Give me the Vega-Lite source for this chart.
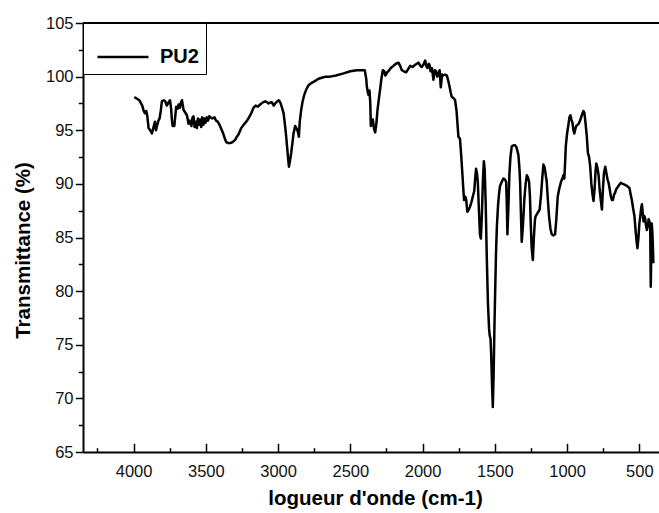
{
  "$schema": "https://vega.github.io/schema/vega-lite/v6.json",
  "width": 576,
  "height": 429,
  "autosize": {"type": "none"},
  "padding": {"left": 83, "top": 23, "right": 0, "bottom": 61},
  "background": "white",
  "config": {
    "view": {"stroke": null},
    "font": "Liberation Sans",
    "axis": {"grid": false, "labelFont": "Liberation Sans", "titleFont": "Liberation Sans", "labelColor": "#111", "titleColor": "#000", "domainColor": "#000", "tickColor": "#000"}
  },
  "data": {"values": [
    {"w":3995,"T":98.1},{"w":3960,"T":97.8},{"w":3940,"T":97.3},{"w":3930,"T":96.8},{"w":3922,"T":96.6},{"w":3912,"T":96.8},{"w":3905,"T":96.3},{"w":3896,"T":95.2},{"w":3885,"T":95.0},{"w":3873,"T":94.7},{"w":3862,"T":95.3},{"w":3852,"T":95.8},{"w":3845,"T":95.0},{"w":3838,"T":95.4},{"w":3828,"T":95.9},{"w":3820,"T":96.1},{"w":3812,"T":96.8},{"w":3804,"T":97.7},{"w":3792,"T":97.8},{"w":3781,"T":97.7},{"w":3770,"T":97.3},{"w":3758,"T":97.6},{"w":3748,"T":97.8},{"w":3740,"T":97.0},{"w":3735,"T":96.0},{"w":3730,"T":95.4},{"w":3718,"T":95.4},{"w":3710,"T":96.5},{"w":3705,"T":97.2},{"w":3695,"T":97.0},{"w":3689,"T":97.4},{"w":3680,"T":97.1},{"w":3672,"T":97.6},{"w":3665,"T":97.8},{"w":3654,"T":96.9},{"w":3645,"T":96.7},{"w":3631,"T":96.4},{"w":3625,"T":96.0},{"w":3620,"T":95.6},{"w":3610,"T":95.9},{"w":3600,"T":95.4},{"w":3592,"T":96.2},{"w":3585,"T":96.3},{"w":3578,"T":95.3},{"w":3570,"T":95.8},{"w":3562,"T":95.2},{"w":3555,"T":96.1},{"w":3548,"T":95.5},{"w":3540,"T":96.0},{"w":3532,"T":95.3},{"w":3525,"T":96.2},{"w":3517,"T":95.5},{"w":3510,"T":96.1},{"w":3502,"T":95.7},{"w":3493,"T":96.2},{"w":3485,"T":95.9},{"w":3477,"T":96.3},{"w":3468,"T":96.2},{"w":3455,"T":96.1},{"w":3440,"T":96.2},{"w":3430,"T":95.9},{"w":3418,"T":95.8},{"w":3405,"T":95.5},{"w":3392,"T":95.1},{"w":3380,"T":94.7},{"w":3368,"T":94.2},{"w":3359,"T":93.9},{"w":3345,"T":93.8},{"w":3331,"T":93.8},{"w":3315,"T":93.9},{"w":3297,"T":94.1},{"w":3285,"T":94.4},{"w":3274,"T":94.6},{"w":3255,"T":95.2},{"w":3239,"T":95.5},{"w":3220,"T":95.8},{"w":3205,"T":96.1},{"w":3185,"T":96.6},{"w":3170,"T":97.1},{"w":3155,"T":97.3},{"w":3140,"T":97.2},{"w":3124,"T":97.4},{"w":3105,"T":97.6},{"w":3089,"T":97.7},{"w":3075,"T":97.6},{"w":3066,"T":97.5},{"w":3050,"T":97.6},{"w":3043,"T":97.6},{"w":3030,"T":97.3},{"w":3020,"T":97.5},{"w":3005,"T":97.7},{"w":2995,"T":97.8},{"w":2985,"T":97.6},{"w":2975,"T":97.2},{"w":2962,"T":96.6},{"w":2954,"T":95.7},{"w":2946,"T":94.7},{"w":2938,"T":93.5},{"w":2930,"T":92.3},{"w":2925,"T":91.6},{"w":2918,"T":92.1},{"w":2909,"T":92.9},{"w":2900,"T":93.9},{"w":2893,"T":94.7},{"w":2882,"T":95.4},{"w":2870,"T":95.1},{"w":2862,"T":94.8},{"w":2856,"T":94.4},{"w":2850,"T":95.8},{"w":2840,"T":96.9},{"w":2830,"T":97.7},{"w":2819,"T":98.3},{"w":2805,"T":98.8},{"w":2789,"T":99.2},{"w":2770,"T":99.4},{"w":2743,"T":99.6},{"w":2720,"T":99.8},{"w":2697,"T":99.9},{"w":2670,"T":100.0},{"w":2640,"T":100.0},{"w":2600,"T":100.1},{"w":2547,"T":100.3},{"w":2500,"T":100.5},{"w":2455,"T":100.6},{"w":2420,"T":100.6},{"w":2400,"T":100.6},{"w":2390,"T":99.8},{"w":2386,"T":99.1},{"w":2380,"T":98.6},{"w":2374,"T":98.3},{"w":2367,"T":98.7},{"w":2362,"T":97.5},{"w":2358,"T":95.4},{"w":2350,"T":95.6},{"w":2344,"T":96.0},{"w":2336,"T":95.1},{"w":2328,"T":94.8},{"w":2320,"T":95.6},{"w":2312,"T":96.9},{"w":2300,"T":98.2},{"w":2294,"T":98.8},{"w":2285,"T":99.8},{"w":2275,"T":100.6},{"w":2265,"T":100.5},{"w":2258,"T":100.1},{"w":2252,"T":100.2},{"w":2245,"T":100.4},{"w":2236,"T":100.5},{"w":2220,"T":100.8},{"w":2202,"T":101.0},{"w":2185,"T":101.2},{"w":2167,"T":101.3},{"w":2155,"T":101.0},{"w":2144,"T":100.6},{"w":2130,"T":100.5},{"w":2114,"T":100.4},{"w":2100,"T":100.7},{"w":2086,"T":101.0},{"w":2070,"T":100.9},{"w":2051,"T":101.1},{"w":2040,"T":101.2},{"w":2029,"T":101.3},{"w":2015,"T":101.0},{"w":2006,"T":100.9},{"w":1995,"T":101.1},{"w":1982,"T":101.5},{"w":1975,"T":101.0},{"w":1966,"T":100.8},{"w":1958,"T":101.2},{"w":1952,"T":101.1},{"w":1945,"T":100.5},{"w":1935,"T":100.8},{"w":1925,"T":99.7},{"w":1915,"T":100.6},{"w":1907,"T":100.5},{"w":1898,"T":100.0},{"w":1891,"T":100.3},{"w":1882,"T":100.6},{"w":1874,"T":99.0},{"w":1865,"T":100.2},{"w":1857,"T":100.1},{"w":1845,"T":100.2},{"w":1832,"T":100.1},{"w":1822,"T":99.6},{"w":1814,"T":99.1},{"w":1805,"T":98.5},{"w":1798,"T":98.1},{"w":1785,"T":98.0},{"w":1775,"T":97.8},{"w":1765,"T":96.8},{"w":1758,"T":95.5},{"w":1752,"T":94.4},{"w":1741,"T":94.2},{"w":1732,"T":92.5},{"w":1725,"T":91.0},{"w":1718,"T":89.5},{"w":1713,"T":88.5},{"w":1705,"T":88.8},{"w":1699,"T":88.6},{"w":1690,"T":87.4},{"w":1680,"T":87.6},{"w":1671,"T":87.9},{"w":1662,"T":88.3},{"w":1653,"T":88.8},{"w":1643,"T":89.3},{"w":1636,"T":90.5},{"w":1630,"T":91.4},{"w":1624,"T":91.0},{"w":1618,"T":90.2},{"w":1610,"T":87.5},{"w":1603,"T":85.3},{"w":1597,"T":84.9},{"w":1590,"T":87.0},{"w":1582,"T":90.5},{"w":1576,"T":92.1},{"w":1570,"T":91.3},{"w":1563,"T":88.0},{"w":1556,"T":83.3},{"w":1548,"T":79.0},{"w":1540,"T":76.5},{"w":1535,"T":75.8},{"w":1530,"T":75.6},{"w":1525,"T":74.0},{"w":1520,"T":71.5},{"w":1514,"T":69.2},{"w":1508,"T":72.5},{"w":1503,"T":76.5},{"w":1498,"T":79.8},{"w":1492,"T":83.5},{"w":1486,"T":86.0},{"w":1478,"T":88.0},{"w":1470,"T":89.2},{"w":1464,"T":89.8},{"w":1452,"T":90.2},{"w":1441,"T":90.5},{"w":1430,"T":90.4},{"w":1422,"T":90.2},{"w":1418,"T":88.5},{"w":1413,"T":85.3},{"w":1407,"T":87.5},{"w":1399,"T":91.0},{"w":1392,"T":92.5},{"w":1383,"T":93.5},{"w":1370,"T":93.6},{"w":1360,"T":93.6},{"w":1350,"T":93.4},{"w":1337,"T":92.7},{"w":1330,"T":91.5},{"w":1325,"T":90.1},{"w":1320,"T":87.5},{"w":1314,"T":84.6},{"w":1306,"T":86.0},{"w":1296,"T":88.5},{"w":1287,"T":90.0},{"w":1279,"T":90.8},{"w":1271,"T":90.6},{"w":1263,"T":90.2},{"w":1257,"T":88.8},{"w":1252,"T":86.5},{"w":1245,"T":84.0},{"w":1237,"T":82.9},{"w":1230,"T":85.0},{"w":1222,"T":86.7},{"w":1217,"T":87.0},{"w":1208,"T":87.2},{"w":1199,"T":87.4},{"w":1190,"T":87.6},{"w":1180,"T":89.0},{"w":1172,"T":90.5},{"w":1164,"T":91.8},{"w":1155,"T":91.5},{"w":1141,"T":90.2},{"w":1133,"T":88.5},{"w":1125,"T":87.0},{"w":1115,"T":85.8},{"w":1106,"T":85.3},{"w":1095,"T":85.2},{"w":1083,"T":85.3},{"w":1074,"T":86.8},{"w":1065,"T":88.8},{"w":1055,"T":89.5},{"w":1042,"T":90.2},{"w":1030,"T":90.6},{"w":1026,"T":90.8},{"w":1019,"T":90.5},{"w":1013,"T":92.2},{"w":1009,"T":93.5},{"w":1000,"T":94.7},{"w":991,"T":95.5},{"w":984,"T":96.2},{"w":977,"T":96.4},{"w":970,"T":96.0},{"w":963,"T":95.7},{"w":956,"T":95.0},{"w":950,"T":94.7},{"w":945,"T":95.0},{"w":937,"T":95.4},{"w":928,"T":95.5},{"w":920,"T":95.6},{"w":910,"T":95.9},{"w":898,"T":96.4},{"w":887,"T":96.8},{"w":880,"T":96.6},{"w":872,"T":95.6},{"w":864,"T":94.5},{"w":856,"T":92.9},{"w":848,"T":92.5},{"w":840,"T":91.6},{"w":832,"T":90.0},{"w":824,"T":89.0},{"w":817,"T":88.4},{"w":810,"T":89.5},{"w":803,"T":91.2},{"w":798,"T":91.9},{"w":790,"T":91.5},{"w":782,"T":90.8},{"w":775,"T":89.5},{"w":767,"T":88.5},{"w":759,"T":87.6},{"w":752,"T":89.5},{"w":745,"T":91.0},{"w":736,"T":91.6},{"w":728,"T":91.0},{"w":720,"T":90.4},{"w":713,"T":90.1},{"w":705,"T":89.5},{"w":697,"T":88.8},{"w":690,"T":88.5},{"w":683,"T":88.5},{"w":675,"T":89.0},{"w":667,"T":89.2},{"w":660,"T":89.5},{"w":650,"T":89.7},{"w":640,"T":89.9},{"w":628,"T":90.1},{"w":615,"T":90.0},{"w":598,"T":89.9},{"w":585,"T":89.8},{"w":568,"T":89.6},{"w":560,"T":89.0},{"w":552,"T":88.5},{"w":543,"T":87.7},{"w":534,"T":87.0},{"w":525,"T":85.5},{"w":518,"T":84.5},{"w":513,"T":84.0},{"w":506,"T":85.0},{"w":500,"T":86.3},{"w":494,"T":86.9},{"w":488,"T":87.7},{"w":482,"T":88.1},{"w":478,"T":87.5},{"w":471,"T":86.5},{"w":466,"T":87.0},{"w":460,"T":86.8},{"w":455,"T":86.2},{"w":448,"T":85.7},{"w":442,"T":86.0},{"w":436,"T":86.7},{"w":430,"T":86.5},{"w":425,"T":86.2},{"w":421,"T":80.4},{"w":417,"T":84.0},{"w":414,"T":86.3},{"w":410,"T":85.5},{"w":406,"T":84.0},{"w":403,"T":82.6}
  ]},
  "resolve": {"axis": {"x": "independent", "y": "independent"}},
  "layer": [
    {
      "mark": {"type": "line", "opacity": 0},
      "encoding": {
        "x": {"field": "w", "type": "quantitative", "scale": {"domain": [364, 4350], "reverse": true, "nice": false, "zero": false},
          "axis": {"orient": "bottom", "values": [4250, 3750, 3250, 2750, 2250, 1750, 1250, 750], "labels": false, "domain": false, "tickSize": -4.3, "tickWidth": 1.5, "title": null}},
        "y": {"field": "T", "type": "quantitative", "scale": {"domain": [65, 105], "nice": false, "zero": false},
          "axis": {"orient": "left", "values": [67.5, 72.5, 77.5, 82.5, 87.5, 92.5, 97.5, 102.5], "labels": false, "domain": false, "tickSize": 4.7, "tickWidth": 1.5, "title": null}}
      }
    },
    {
      "mark": {"type": "rule", "color": "black", "strokeWidth": 1.5},
      "encoding": {"y": {"datum": 105, "type": "quantitative", "axis": null}}
    },
    {
      "mark": {"type": "line", "strokeWidth": 2.5, "strokeJoin": "round"},
      "encoding": {
        "x": {"field": "w", "type": "quantitative",
          "axis": {"orient": "bottom", "values": [4000, 3500, 3000, 2500, 2000, 1500, 1000, 500], "format": "d", "tickSize": -8.7, "tickWidth": 1.5, "domainWidth": 2, "labelFontSize": 16.5, "labelPadding": 20,
            "title": "logueur d'onde (cm-1)", "titleFontSize": 20.5, "titleFontWeight": "bold", "titleBaseline": "alphabetic", "titleY": 52, "titleX": 292}},
        "y": {"field": "T", "type": "quantitative",
          "axis": {"orient": "left", "values": [65, 70, 75, 80, 85, 90, 95, 100, 105], "tickSize": 7.7, "tickWidth": 1.5, "domainWidth": 2, "labelFontSize": 16.5, "labelPadding": 2.3,
            "title": "Transmittance (%)", "titleFontSize": 20.5, "titleFontWeight": "bold", "titlePadding": 12, "titleY": 227}},
        "color": {"datum": "PU2", "type": "nominal", "scale": {"range": ["black"]},
          "legend": {"orient": "top-left", "offset": 0, "title": null, "strokeColor": "black", "fillColor": "white", "padding": 7, "symbolType": "stroke", "symbolSize": 2601, "symbolStrokeWidth": 2.4, "symbolOffset": 6, "labelOffset": 10, "labelFontSize": 20, "labelFontWeight": "bold", "labelFont": "Liberation Sans", "labelColor": "black", "labelExpr": "datum.label + ' '"}}
      }
    }
  ]
}
